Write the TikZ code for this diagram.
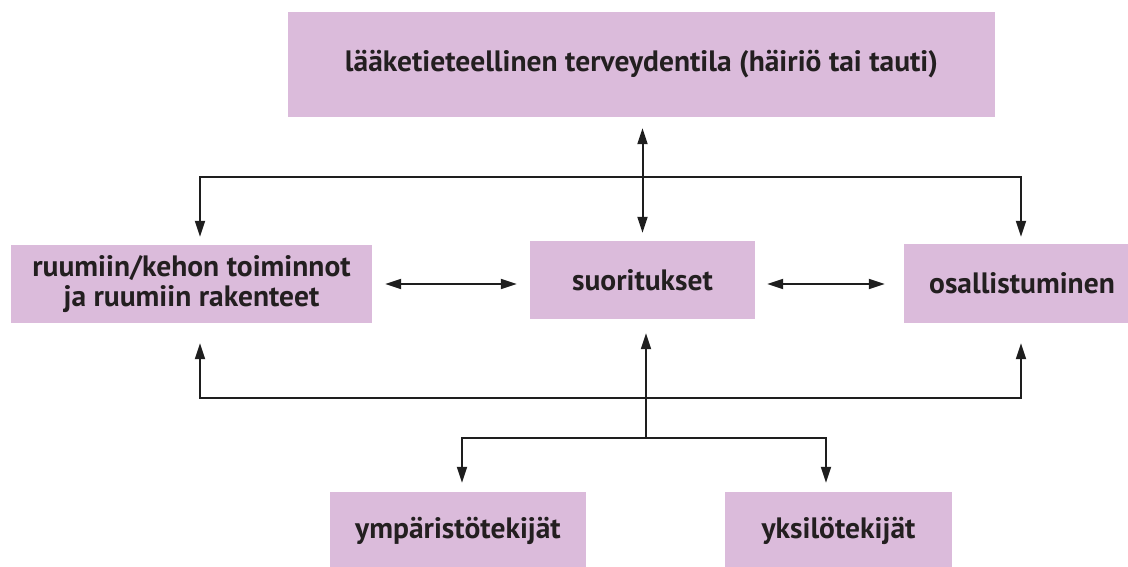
\documentclass[tikz,border=0pt]{standalone}
\usepackage{fontspec}
\setmainfont{PT Sans}
\usetikzlibrary{arrows.meta,calc}
\definecolor{boxfill}{RGB}{219,187,219}
\definecolor{txt}{RGB}{35,31,32}
\definecolor{linec}{RGB}{30,30,30}
\begin{document}
\begin{tikzpicture}[x=1pt,y=-1pt,
  box/.style={fill=boxfill, inner sep=0pt, text=txt, font=\fontsize{29.5}{30}\selectfont\bfseries, align=center},
  dbl/.style={line width=2pt, draw=linec, {Triangle[length=16pt,width=10pt]}-{Triangle[length=16pt,width=10pt]}},
  one/.style={line width=2pt, draw=linec, -{Triangle[length=16pt,width=10pt]}}]
\useasboundingbox (0,0) rectangle (1128,566);
\node[box, minimum width=707pt, minimum height=105pt] (top) at (641.5,64.5) {lääketieteellinen terveydentila (häiriö tai tauti)};
\node[box, minimum width=361pt, minimum height=78pt] (body) at (191.5,284) {ruumiin/kehon toiminnot\\ja ruumiin rakenteet};
\node[box, minimum width=225pt, minimum height=78pt] (act) at (642.5,280) {suoritukset};
\node[box, minimum width=236pt, minimum height=79pt] (part) at (1022,283.5) {osallistuminen};
\node[box, minimum width=256pt, minimum height=78pt] (env) at (458,531) {ympäristötekijät};
\node[box, minimum width=227pt, minimum height=78pt] (pers) at (838.5,531) {yksilötekijät};
% top <-> activities
\draw[dbl, shorten <=11pt, shorten >=8pt] (top.south -| act.north) -- (act.north);
% upper distribution line
\coordinate (upL) at (200,177);
\coordinate (upR) at (1021,177);
\draw[dbl, shorten <=8pt, shorten >=7pt] (upL |- body.north) -- (upL) -- (upR) -- (upR |- part.north);
% lower line
\coordinate (loL) at (200,398);
\coordinate (loR) at (1021,398);
\draw[dbl, shorten <=20pt, shorten >=20pt] (loL |- body.south) -- (loL) -- (loR) -- (loR |- part.south);
% horizontal double arrows
\draw[dbl, shorten <=13pt, shorten >=13pt] (body.east) -- (body.east -| act.west);
\draw[dbl, shorten <=12pt, shorten >=19pt] (act.east |- body.east) -- (part.west |- body.east);
% bottom factors
\coordinate (jn) at (646,438);
\draw[one, shorten >=14pt] (jn) -- (jn |- act.south);
\coordinate (bl) at (462,438);
\coordinate (br) at (826,438);
\draw[dbl, shorten <=9pt, shorten >=9pt] (bl |- env.north) -- (bl) -- (br) -- (br |- pers.north);
\end{tikzpicture}
\end{document}
